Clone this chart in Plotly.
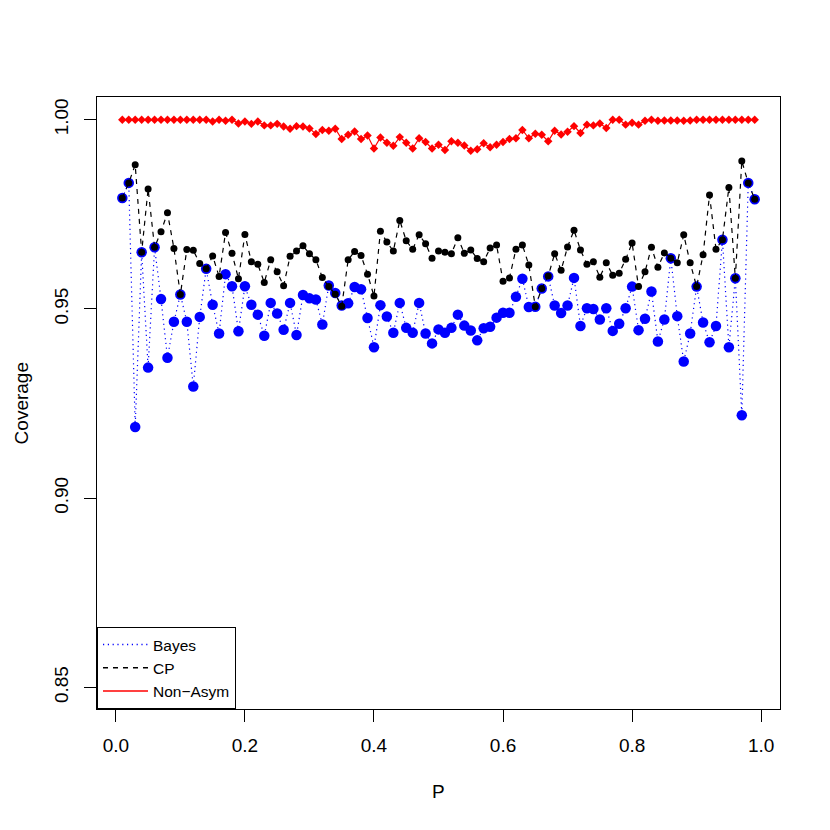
import plotly.graph_objects as go

# x grid: proportion P
p = [round(i / 100, 2) for i in range(1, 100)]

# Coverage
bayes = [0.9793, 0.9833, 0.9188, 0.9650, 0.9345, 0.9663, 0.9526, 0.9371, 0.9466, 0.9538,
         0.9466, 0.9295, 0.9479, 0.9606, 0.9511, 0.9435, 0.9592, 0.9560, 0.9441, 0.9560,
         0.9511, 0.9485, 0.9429, 0.9516, 0.9488, 0.9445, 0.9516, 0.9431, 0.9537, 0.9528,
         0.9525, 0.9459, 0.9562, 0.9542, 0.9509, 0.9515, 0.9558, 0.9552, 0.9476, 0.9399,
         0.9510, 0.9480, 0.9437, 0.9516, 0.9450, 0.9437, 0.9516, 0.9435, 0.9409, 0.9446,
         0.9437, 0.9450, 0.9485, 0.9456, 0.9443, 0.9417, 0.9449, 0.9453, 0.9477, 0.9490,
         0.9490, 0.9532, 0.9580, 0.9505, 0.9506, 0.9554, 0.9586, 0.9509, 0.9489, 0.9509,
         0.9582, 0.9455, 0.9502, 0.9500, 0.9472, 0.9502, 0.9442, 0.9461, 0.9502, 0.9559,
         0.9444, 0.9474, 0.9546, 0.9414, 0.9472, 0.9634, 0.9481, 0.9361, 0.9435, 0.9559,
         0.9464, 0.9412, 0.9455, 0.9683, 0.9399, 0.9581, 0.9219, 0.9833, 0.9790]

cp = [0.9793, 0.9833, 0.9881, 0.9650, 0.9817, 0.9663, 0.9704, 0.9754, 0.9660, 0.9538,
      0.9657, 0.9655, 0.9620, 0.9606, 0.9640, 0.9586, 0.9702, 0.9647, 0.9580, 0.9697,
      0.9625, 0.9618, 0.9570, 0.9630, 0.9598, 0.9561, 0.9639, 0.9653, 0.9667, 0.9646,
      0.9630, 0.9583, 0.9559, 0.9539, 0.9507, 0.9630, 0.9652, 0.9641, 0.9592, 0.9534,
      0.9705, 0.9677, 0.9653, 0.9734, 0.9680, 0.9658, 0.9696, 0.9672, 0.9634, 0.9653,
      0.9650, 0.9646, 0.9688, 0.9647, 0.9656, 0.9633, 0.9625, 0.9661, 0.9669, 0.9573,
      0.9582, 0.9658, 0.9669, 0.9616, 0.9506, 0.9554, 0.9587, 0.9646, 0.9602, 0.9664,
      0.9708, 0.9656, 0.9618, 0.9625, 0.9584, 0.9622, 0.9589, 0.9594, 0.9631, 0.9674,
      0.9559, 0.9598, 0.9663, 0.9610, 0.9648, 0.9634, 0.9622, 0.9696, 0.9622, 0.9559,
      0.9643, 0.9801, 0.9658, 0.9683, 0.9821, 0.9581, 0.9891, 0.9833, 0.9790]

nonasym = [1.0000, 1.0000, 1.0000, 1.0000, 1.0000, 1.0000, 1.0000, 1.0000, 1.0000, 1.0000,
           1.0000, 1.0000, 1.0000, 1.0000, 0.9995, 1.0000, 0.9997, 1.0000, 0.9990, 0.9995,
           0.9989, 0.9995, 0.9985, 0.9985, 0.9989, 0.9982, 0.9976, 0.9983, 0.9982, 0.9977,
           0.9962, 0.9973, 0.9971, 0.9976, 0.9949, 0.9960, 0.9969, 0.9949, 0.9958, 0.9924,
           0.9953, 0.9939, 0.9931, 0.9954, 0.9939, 0.9924, 0.9951, 0.9941, 0.9924, 0.9934,
           0.9920, 0.9943, 0.9939, 0.9932, 0.9918, 0.9922, 0.9938, 0.9927, 0.9934, 0.9941,
           0.9949, 0.9951, 0.9973, 0.9951, 0.9963, 0.9960, 0.9943, 0.9971, 0.9961, 0.9968,
           0.9983, 0.9965, 0.9987, 0.9985, 0.9990, 0.9978, 1.0000, 1.0000, 0.9987, 0.9992,
           0.9987, 0.9997, 1.0000, 0.9997, 0.9998, 0.9998, 0.9998, 0.9997, 0.9998, 1.0000,
           1.0000, 1.0000, 1.0000, 1.0000, 1.0000, 1.0000, 1.0000, 1.0000, 1.0000]

x_ticks = [0.0, 0.2, 0.4, 0.6, 0.8, 1.0]
y_ticks = [0.85, 0.90, 0.95, 1.00]

font = "Liberation Sans, Arial, Helvetica, sans-serif"

fig = go.Figure()
fig.add_trace(go.Scatter(x=p, y=bayes, mode='lines+markers', showlegend=False,
                         line=dict(color='blue', width=1.2, dash='1.2px,3.6px'),
                         marker=dict(color='blue', size=10.5)))
fig.add_trace(go.Scatter(x=p, y=cp, mode='lines+markers', showlegend=False,
                         line=dict(color='black', width=1.2, dash='5px,5px'),
                         marker=dict(color='black', size=7)))
fig.add_trace(go.Scatter(x=p, y=nonasym, mode='lines+markers', showlegend=False,
                         line=dict(color='red', width=1.2),
                         marker=dict(color='red', size=6.5, symbol='diamond')))

# legend entries (lines only, like the original)
fig.add_trace(go.Scatter(x=[None], y=[None], mode='lines', name='Bayes',
                         line=dict(color='blue', width=1.5, dash='1.2px,3.6px')))
fig.add_trace(go.Scatter(x=[None], y=[None], mode='lines', name='CP',
                         line=dict(color='black', width=1.5, dash='5px,5px')))
fig.add_trace(go.Scatter(x=[None], y=[None], mode='lines', name='Non\u2212Asym',
                         line=dict(color='red', width=1.5)))

# page body adds an 8px offset, so the figure is a bit smaller than the window
fig.update_layout(
    width=822, height=822,
    margin=dict(l=89, r=50, t=89, b=121),
    plot_bgcolor='white', paper_bgcolor='white',
    font=dict(family=font, size=19, color='black'),
    legend=dict(x=0, y=0, xanchor='left', yanchor='bottom',
                bordercolor='black', borderwidth=1, bgcolor='white',
                font=dict(size=15.5), tracegroupgap=0, itemwidth=45),
    annotations=[
        dict(text='P', xref='paper', yref='paper', x=0.5, y=-0.1356,
             xanchor='center', yanchor='middle', showarrow=False,
             font=dict(size=19)),
        dict(text='Coverage', xref='paper', yref='paper', x=-0.129, y=0.5,
             xanchor='left', yanchor='middle', textangle=-90, showarrow=False,
             font=dict(size=19)),
    ],
)
fig.update_xaxes(range=[-0.0292, 1.0292], tickvals=x_ticks, tickformat='.1f',
                 showgrid=False, zeroline=False, showline=True, mirror=True,
                 linecolor='black', linewidth=1, ticks='outside', ticklen=12,
                 tickcolor='black', ticklabelstandoff=7)
fig.update_yaxes(range=[0.8443, 1.006], tickvals=y_ticks, tickformat='.2f',
                 tickangle=-90, showgrid=False, zeroline=False, showline=True,
                 mirror=True, linecolor='black', linewidth=1, ticks='outside',
                 ticklen=12, tickcolor='black', ticklabelstandoff=8)

fig.write_html("out.html")
